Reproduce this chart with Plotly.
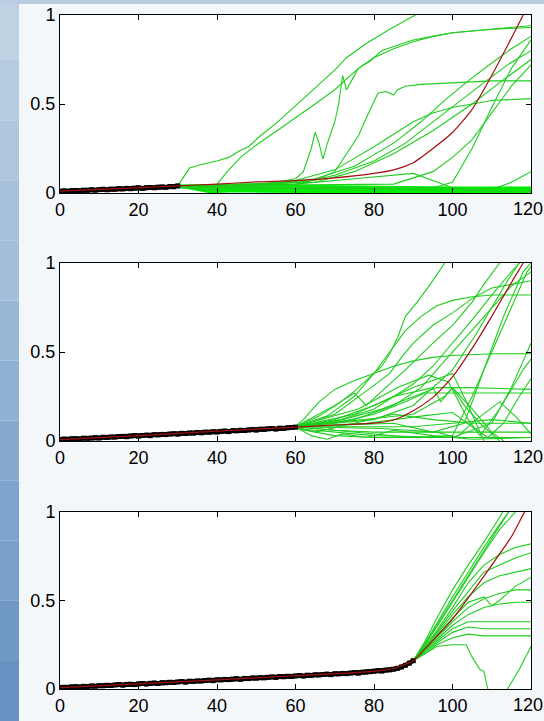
import plotly.graph_objects as go

# ---------------------------------------------------------------------------
# Observed (noisy) history, one value per time step, for each of the 3 runs
# ---------------------------------------------------------------------------
OBS_1 = [0.010, 0.012, 0.009, 0.013, 0.014, 0.012, 0.016, 0.015, 0.018, 0.016,
         0.019, 0.021, 0.018, 0.022, 0.021, 0.024, 0.023, 0.026, 0.024, 0.027,
         0.029, 0.026, 0.030, 0.031, 0.029, 0.033, 0.034, 0.032, 0.036, 0.035,
         0.040]

OBS_2 = [0.008, 0.011, 0.009, 0.012, 0.013, 0.011, 0.016, 0.015, 0.017, 0.019,
         0.017, 0.021, 0.020, 0.023, 0.022, 0.025, 0.026, 0.024, 0.028, 0.030,
         0.027, 0.031, 0.033, 0.030, 0.035, 0.034, 0.037, 0.036, 0.039, 0.041,
         0.038, 0.043, 0.042, 0.045, 0.044, 0.048, 0.046, 0.050, 0.049, 0.052,
         0.050, 0.054, 0.056, 0.053, 0.058, 0.057, 0.060, 0.059, 0.062, 0.064,
         0.061, 0.066, 0.065, 0.068, 0.070, 0.067, 0.072, 0.071, 0.074, 0.076,
         0.078]

OBS_3 = [0.008, 0.010, 0.009, 0.012, 0.013, 0.011, 0.015, 0.014, 0.017, 0.016,
         0.019, 0.018, 0.021, 0.020, 0.023, 0.025, 0.022, 0.026, 0.027, 0.025,
         0.029, 0.031, 0.028, 0.032, 0.034, 0.031, 0.036, 0.035, 0.038, 0.037,
         0.040, 0.042, 0.039, 0.044, 0.043, 0.046, 0.045, 0.048, 0.050, 0.047,
         0.052, 0.051, 0.054, 0.053, 0.056, 0.058, 0.055, 0.060, 0.059, 0.062,
         0.061, 0.064, 0.063, 0.066, 0.068, 0.065, 0.070, 0.069, 0.072, 0.071,
         0.074, 0.076, 0.073, 0.078, 0.077, 0.080, 0.079, 0.082, 0.084, 0.081,
         0.086, 0.085, 0.088, 0.087, 0.090, 0.092, 0.089, 0.094, 0.095, 0.098,
         0.100, 0.103, 0.101, 0.106, 0.108, 0.112, 0.117, 0.124, 0.134, 0.146,
         0.160]

# ---------------------------------------------------------------------------
# Mean trend (red), as (time, value) knots
# ---------------------------------------------------------------------------
MEAN_1 = [(0, 0.010), (10, 0.020), (20, 0.030), (30, 0.040), (40, 0.050),
          (50, 0.062), (60, 0.070), (70, 0.085), (80, 0.110), (85, 0.130),
          (90, 0.170), (95, 0.250), (100, 0.340), (105, 0.470), (110, 0.660),
          (115, 0.870), (118, 1.000), (121, 1.150)]

MEAN_2 = [(0, 0.008), (20, 0.030), (40, 0.055), (60, 0.078), (70, 0.090),
          (80, 0.100), (85, 0.118), (90, 0.170), (95, 0.245), (100, 0.360),
          (105, 0.520), (110, 0.700), (115, 0.890), (118, 1.000), (121, 1.120)]

MEAN_3 = [(0, 0.008), (30, 0.040), (60, 0.075), (80, 0.100), (85, 0.116),
          (88, 0.140), (90, 0.160), (95, 0.275), (100, 0.395), (105, 0.545),
          (110, 0.700), (115, 0.860), (118, 0.985), (121, 1.100)]

# ---------------------------------------------------------------------------
# Simulated forward paths (green), each a list of (time, value) points
# ---------------------------------------------------------------------------
PATHS_1 = [
    [(30, 0.04), (33, 0.14), (36, 0.16), (38, 0.17), (40, 0.18), (43, 0.20),
     (46, 0.24), (48, 0.26), (51, 0.32), (55, 0.39), (60, 0.49), (65, 0.59),
     (70, 0.69), (73, 0.76), (78, 0.84), (84, 0.92), (90, 0.99), (93, 1.03)],
    [(30, 0.04), (36, 0.02), (38, 0.01), (40, 0.05), (43, 0.13), (46, 0.20),
     (50, 0.27), (54, 0.33), (60, 0.42), (65, 0.50), (70, 0.58), (73, 0.64),
     (76, 0.70), (80, 0.76), (85, 0.81), (90, 0.85), (95, 0.88), (100, 0.90),
     (110, 0.92), (120, 0.93)],
    [(30, 0.04), (45, 0.04), (55, 0.06), (60, 0.08), (62, 0.12), (64, 0.25),
     (65, 0.34), (66, 0.28), (67, 0.19), (68, 0.27), (70, 0.40), (71, 0.50),
     (72, 0.66), (73, 0.58), (74, 0.62), (76, 0.70), (79, 0.74), (82, 0.80),
     (86, 0.83), (90, 0.86), (95, 0.88), (100, 0.90), (110, 0.92), (120, 0.94)],
    [(30, 0.04), (50, 0.05), (60, 0.06), (65, 0.07), (70, 0.12), (73, 0.22),
     (76, 0.32), (78, 0.42), (80, 0.52), (81, 0.56), (83, 0.57), (85, 0.55),
     (86, 0.58), (88, 0.60), (92, 0.61), (100, 0.62), (110, 0.63), (120, 0.63)],
    [(30, 0.04), (50, 0.04), (60, 0.07), (70, 0.13), (80, 0.26), (85, 0.33),
     (90, 0.40), (95, 0.45), (100, 0.48), (105, 0.50), (110, 0.52), (120, 0.53)],
    [(30, 0.04), (55, 0.05), (65, 0.08), (75, 0.15), (85, 0.28), (92, 0.40),
     (98, 0.52), (104, 0.63), (110, 0.73), (115, 0.81), (120, 0.88)],
    [(30, 0.04), (60, 0.05), (70, 0.10), (80, 0.18), (88, 0.28), (95, 0.40),
     (102, 0.52), (108, 0.62), (114, 0.72), (120, 0.80)],
    [(30, 0.04), (65, 0.06), (75, 0.12), (85, 0.22), (95, 0.35), (105, 0.50),
     (112, 0.62), (120, 0.75)],
    [(30, 0.03), (80, 0.03), (95, 0.03), (100, 0.06), (105, 0.25), (110, 0.48),
     (115, 0.70), (120, 0.86)],
    [(30, 0.04), (85, 0.05), (95, 0.12), (100, 0.20), (105, 0.30), (110, 0.45),
     (115, 0.60), (120, 0.72)],
    [(30, 0.04), (60, 0.05), (75, 0.08), (85, 0.10), (90, 0.11), (95, 0.07),
     (100, 0.03), (105, 0.01), (120, 0.01)],
    [(30, 0.03), (100, 0.02), (110, 0.02), (115, 0.06), (120, 0.12)],
]

# Dense cluster of paths that stay near zero (the thick band along the axis)
FLAT_1 = [
    [(30, 0.040), (40, 0.030), (50, 0.020), (60, 0.020), (80, 0.015),
     (100, 0.010), (120, 0.010)],
    [(30, 0.040), (40, 0.035), (60, 0.030), (80, 0.030), (100, 0.025),
     (120, 0.020)],
    [(30, 0.040), (35, 0.020), (50, 0.010), (70, 0.005), (100, 0.005),
     (120, 0.005)],
    [(30, 0.040), (45, 0.045), (60, 0.040), (80, 0.035), (100, 0.030),
     (120, 0.030)],
    [(30, 0.035), (40, 0.015), (55, 0.020), (75, 0.010), (95, 0.015),
     (120, 0.015)],
    [(30, 0.040), (50, 0.030), (70, 0.025), (90, 0.020), (110, 0.020),
     (120, 0.025)],
    [(30, 0.040), (38, 0.005), (45, 0.010), (60, 0.008), (90, 0.010),
     (120, 0.012)],
    [(30, 0.040), (50, 0.048), (65, 0.035), (85, 0.028), (105, 0.022),
     (120, 0.020)],
]

PATHS_2 = [
    [(60, 0.08), (66, 0.14), (71, 0.21), (75, 0.28), (79, 0.36), (82, 0.42),
     (84, 0.49), (86, 0.58), (88, 0.70), (91, 0.78), (94, 0.87), (98, 1.00),
     (100, 1.05)],
    [(60, 0.08), (68, 0.14), (75, 0.25), (80, 0.38), (84, 0.50), (88, 0.62),
     (92, 0.70), (96, 0.76), (100, 0.79), (105, 0.81), (110, 0.82), (120, 0.82)],
    [(60, 0.08), (62, 0.12), (66, 0.22), (70, 0.29), (75, 0.34), (80, 0.38),
     (85, 0.42), (90, 0.45), (95, 0.47), (100, 0.48), (110, 0.49), (120, 0.49)],
    [(60, 0.08), (70, 0.10), (80, 0.15), (88, 0.22), (93, 0.27), (100, 0.27),
     (120, 0.27)],
    [(60, 0.08), (72, 0.12), (82, 0.18), (90, 0.25), (96, 0.30), (104, 0.30),
     (120, 0.29)],
    [(60, 0.08), (70, 0.06), (80, 0.05), (120, 0.05)],
    [(60, 0.07), (70, 0.03), (80, 0.02), (120, 0.02)],
    [(60, 0.08), (70, 0.11), (80, 0.18), (90, 0.32), (95, 0.42), (100, 0.55),
     (105, 0.68), (110, 0.82), (115, 0.95), (118, 1.02)],
    [(60, 0.08), (75, 0.12), (85, 0.20), (92, 0.30), (98, 0.45), (104, 0.60),
     (110, 0.75), (115, 0.87), (120, 0.95)],
    [(60, 0.08), (80, 0.12), (90, 0.20), (100, 0.40), (106, 0.60), (110, 0.75),
     (114, 0.90), (117, 1.00)],
    [(60, 0.08), (75, 0.05), (90, 0.02), (100, 0.03), (105, 0.25), (110, 0.50),
     (115, 0.75), (119, 0.95), (120, 0.98)],
    [(60, 0.08), (85, 0.10), (95, 0.05), (103, 0.10), (108, 0.40), (113, 0.70),
     (118, 0.95), (120, 1.00)],
    [(60, 0.08), (70, 0.12), (80, 0.20), (90, 0.30), (100, 0.38), (104, 0.20),
     (108, 0.00)],
    [(60, 0.08), (75, 0.15), (85, 0.25), (95, 0.30), (97, 0.22), (100, 0.30),
     (105, 0.18), (110, 0.05), (113, 0.00)],
    [(60, 0.08), (70, 0.20), (75, 0.27), (78, 0.20), (82, 0.28), (88, 0.40),
     (95, 0.55), (100, 0.65), (105, 0.78), (108, 0.88), (112, 1.00)],
    [(60, 0.08), (65, 0.05), (75, 0.10), (85, 0.15), (95, 0.12), (105, 0.10),
     (120, 0.10)],
    [(60, 0.07), (80, 0.03), (100, 0.02), (110, 0.10), (115, 0.30),
     (120, 0.55)],
    [(60, 0.08), (70, 0.15), (78, 0.28), (84, 0.38), (87, 0.47), (90, 0.55),
     (95, 0.65), (100, 0.72), (105, 0.80), (110, 0.86), (115, 0.88),
     (120, 0.90)],
    [(60, 0.08), (90, 0.15), (98, 0.25), (100, 0.30), (103, 0.20), (107, 0.10),
     (112, 0.00)],
    [(60, 0.08), (80, 0.08), (90, 0.08), (100, 0.10), (110, 0.12), (120, 0.10)],
    [(60, 0.08), (64, 0.03), (68, 0.01), (72, 0.04), (78, 0.02), (85, 0.06),
     (95, 0.03), (105, 0.01), (120, 0.02)],
    [(60, 0.08), (78, 0.10), (92, 0.14), (100, 0.16), (105, 0.08),
     (109, 0.02), (113, 0.10), (117, 0.25), (120, 0.35)],
    [(60, 0.08), (82, 0.07), (96, 0.05), (101, 0.02), (106, 0.12),
     (112, 0.22), (116, 0.14), (120, 0.04)],
    [(60, 0.08), (76, 0.18), (86, 0.30), (94, 0.37), (99, 0.33), (104, 0.12),
     (107, 0.03), (112, 0.18), (118, 0.40), (120, 0.46)],
]

PATHS_3 = [
    [(90, 0.16), (93, 0.27), (96, 0.40), (100, 0.56), (104, 0.70), (108, 0.83),
     (112, 0.97), (114, 1.05)],
    [(90, 0.16), (93, 0.26), (96, 0.37), (100, 0.52), (104, 0.66), (108, 0.80),
     (112, 0.93), (116, 1.05)],
    [(90, 0.16), (93, 0.25), (96, 0.35), (100, 0.49), (104, 0.63), (108, 0.77),
     (112, 0.90), (116, 1.00), (120, 1.10)],
    [(90, 0.16), (93, 0.25), (96, 0.36), (100, 0.50), (104, 0.64), (108, 0.78),
     (112, 0.92), (116, 1.06)],
    [(90, 0.16), (93, 0.24), (96, 0.33), (100, 0.46), (104, 0.60), (108, 0.70),
     (112, 0.76), (116, 0.80), (120, 0.82)],
    [(90, 0.16), (93, 0.24), (96, 0.32), (100, 0.44), (104, 0.55), (108, 0.66),
     (112, 0.70), (116, 0.74), (120, 0.77)],
    [(90, 0.16), (93, 0.23), (96, 0.31), (100, 0.42), (104, 0.52), (108, 0.60),
     (112, 0.64), (116, 0.66), (120, 0.68)],
    [(90, 0.16), (93, 0.23), (96, 0.30), (100, 0.40), (104, 0.49), (108, 0.52),
     (110, 0.47), (112, 0.50), (116, 0.58), (120, 0.63)],
    [(90, 0.16), (93, 0.22), (96, 0.29), (100, 0.38), (104, 0.46), (108, 0.51),
     (112, 0.54), (116, 0.56), (120, 0.56)],
    [(90, 0.16), (93, 0.22), (96, 0.28), (100, 0.36), (104, 0.42), (108, 0.46),
     (112, 0.48), (116, 0.49), (120, 0.49)],
    [(90, 0.16), (93, 0.21), (96, 0.27), (100, 0.34), (104, 0.38), (108, 0.38),
     (120, 0.38)],
    [(90, 0.16), (93, 0.21), (96, 0.26), (100, 0.32), (104, 0.35), (108, 0.34),
     (120, 0.34)],
    [(90, 0.16), (93, 0.20), (96, 0.25), (100, 0.29), (104, 0.31), (108, 0.30),
     (120, 0.30)],
    [(90, 0.16), (93, 0.20), (96, 0.24), (100, 0.25), (103.5, 0.25),
     (105, 0.18), (107, 0.11), (108, 0.10), (109, 0.00), (110, -0.05),
     (113, -0.02), (114, 0.00), (117, 0.11), (120, 0.24)],
]

X_TICKS = [0, 20, 40, 60, 80, 100, 120]
X_LABELS = ["0", "20", "40", "60", "80", "100", "120"]
Y_TICKS = [0, 0.5, 1]
Y_LABELS = ["0", "0.5", "1"]

GREEN = "rgb(30,205,30)"
GREEN_BAND = "rgb(0,235,0)"
RED = "rgb(165,15,15)"

fig = go.Figure()

panels = [(OBS_1, MEAN_1, PATHS_1, FLAT_1), (OBS_2, MEAN_2, PATHS_2, []),
          (OBS_3, MEAN_3, PATHS_3, [])]

for i, (obs, mean, paths, flat) in enumerate(panels, start=1):
    xa = "x" if i == 1 else f"x{i}"
    ya = "y" if i == 1 else f"y{i}"
    for path in flat:
        fig.add_trace(go.Scatter(
            x=[p[0] for p in path], y=[p[1] for p in path], mode="lines",
            line=dict(color=GREEN_BAND, width=2.2), xaxis=xa, yaxis=ya,
            hoverinfo="skip"))
    for path in paths:
        fig.add_trace(go.Scatter(
            x=[p[0] for p in path], y=[p[1] for p in path], mode="lines",
            line=dict(color=GREEN, width=1.1), xaxis=xa, yaxis=ya,
            hoverinfo="skip"))
    fig.add_trace(go.Scatter(
        x=list(range(len(obs))), y=obs, mode="lines+markers",
        line=dict(color="black", width=4.5),
        marker=dict(color="black", size=5, symbol="square"),
        xaxis=xa, yaxis=ya, hoverinfo="skip"))
    fig.add_trace(go.Scatter(
        x=[p[0] for p in mean], y=[p[1] for p in mean], mode="lines",
        line=dict(color=RED, width=1.2, shape="spline", smoothing=0.6),
        xaxis=xa, yaxis=ya, hoverinfo="skip"))

W, H = 544, 721
X_DOM = [60 / W, 531 / W]
Y_DOMS = [(15, 193), (263, 441), (512, 689)]

FONT = dict(family="Liberation Sans, Arial", size=18, color="black")

layout = dict(
    width=W, height=H,
    margin=dict(l=0, r=0, t=0, b=0, autoexpand=False),
    paper_bgcolor="#f4f7fa", plot_bgcolor="white", showlegend=False,
    font=FONT,
)

annotations = []
for i, (top, bot) in enumerate(Y_DOMS, start=1):
    sx = "xaxis" if i == 1 else f"xaxis{i}"
    sy = "yaxis" if i == 1 else f"yaxis{i}"
    anc_x = "y" if i == 1 else f"y{i}"
    anc_y = "x" if i == 1 else f"x{i}"
    # the last x label sits at the right edge of the page; it is drawn as an
    # annotation nudged slightly left so it stays fully on the page
    layout[sx] = dict(
        domain=X_DOM, anchor=anc_x, range=[0, 120],
        tickvals=X_TICKS, ticktext=X_LABELS[:-1] + [""],
        ticks="inside", ticklen=5, tickcolor="black", mirror="ticks",
        showline=True, linecolor="black", linewidth=1,
        showgrid=False, zeroline=False, tickfont=FONT,
        ticklabeloverflow="allow")
    layout[sy] = dict(
        domain=[1 - bot / H, 1 - top / H], anchor=anc_y, range=[0, 1],
        tickvals=Y_TICKS, ticktext=Y_LABELS,
        ticks="inside", ticklen=5, tickcolor="black", mirror="ticks",
        showline=True, linecolor="black", linewidth=1,
        showgrid=False, zeroline=False, tickfont=FONT,
        ticklabeloverflow="allow")
    annotations.append(dict(
        text=X_LABELS[-1], x=X_TICKS[-1], xref=anc_y,
        y=0, yref=f"{anc_x} domain", xanchor="right", yanchor="middle",
        xshift=13, yshift=-16, showarrow=False, font=FONT, borderpad=0))

layout["annotations"] = annotations

# Sky-blue frame strips behind the figure (left edge and top edge)
STRIP_COLORS = ["#bfd2e3", "#b6cce1", "#afc7de", "#a7c1db", "#a3bfdb",
                "#98b7d6", "#8fb1d3", "#86aacf", "#7ca4cc", "#7a9fc8",
                "#6f98c4", "#6792c1"]
shapes = []
n = len(STRIP_COLORS)
for k, c in enumerate(STRIP_COLORS):
    shapes.append(dict(type="rect", xref="paper", yref="paper",
                       x0=0, x1=19 / W, y0=1 - (k + 1) / n, y1=1 - k / n,
                       fillcolor=c, line=dict(width=0), layer="below"))
shapes.append(dict(type="rect", xref="paper", yref="paper",
                   x0=0, x1=1, y0=1 - 4 / H, y1=1,
                   fillcolor="#b8cde0", line=dict(width=0), layer="below"))
layout["shapes"] = shapes

fig.update_layout(**layout)
fig.write_html("out.html")
